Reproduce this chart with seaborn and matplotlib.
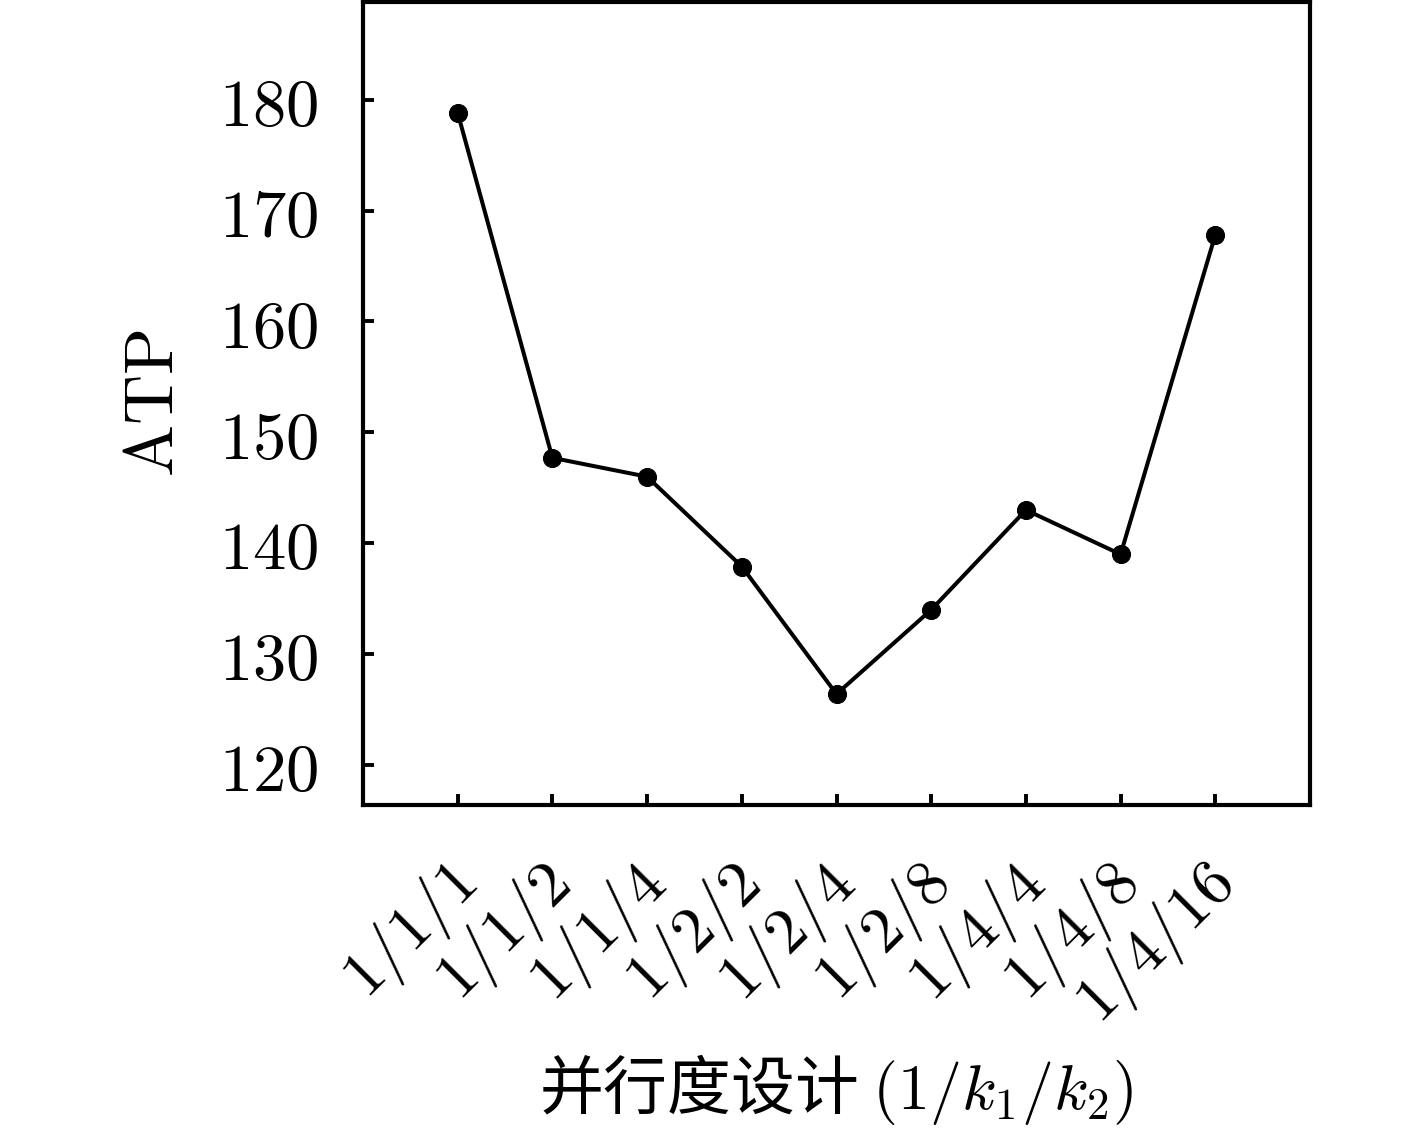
import matplotlib
matplotlib.use("Agg")
import matplotlib.pyplot as plt
import matplotlib.transforms as mtransforms
import seaborn as sns
import pandas as pd

categories = ["1/1/1", "1/1/2", "1/1/4", "1/2/2", "1/2/4", "1/2/8", "1/4/4", "1/4/8", "1/4/16"]
atp_values = [178.8, 147.7, 146.0, 137.9, 126.4, 134.0, 143.0, 139.0, 167.8]
y_ticks = [120, 130, 140, 150, 160, 170, 180]

sns.set_theme(style="ticks")
plt.rcParams['font.family'] = ['Noto Sans CJK SC', 'DejaVu Sans']
plt.rcParams['mathtext.fontset'] = 'cm'
plt.rcParams['text.color'] = 'black'
plt.rcParams['axes.labelcolor'] = 'black'
plt.rcParams['xtick.color'] = 'black'
plt.rcParams['ytick.color'] = 'black'

df = pd.DataFrame({"cfg": categories, "ATP": atp_values})

fig = plt.figure(figsize=(14.17, 11.39), dpi=100)
ax = fig.add_axes([363/1417, 1 - 805/1139, (1310 - 363)/1417, (805 - 2)/1139])

sns.lineplot(data=df, x="cfg", y="ATP", ax=ax, color="black", linewidth=2.9,
             marker="o", markersize=13, markeredgecolor="black", sort=False)

ax.set_xlim(-1, len(categories))
ax.set_ylim(116.4, 188.8)
ax.set_yticks(y_ticks)
ax.set_yticklabels([f"${v}$" for v in y_ticks], fontsize=48)
ax.set_xticks(range(len(categories)))
ax.set_xticklabels([f"${c}$" for c in categories], fontsize=47, rotation=45,
                   ha="right", rotation_mode="anchor")

ax.tick_params(axis="both", direction="in", length=8, width=2.8,
               colors="black", labelcolor="black")
ax.tick_params(axis="y", pad=32)
ax.tick_params(axis="x", pad=28)
offset = mtransforms.ScaledTranslation(-0.15, -0.07, fig.dpi_scale_trans)
for lab in ax.get_xticklabels():
    lab.set_transform(lab.get_transform() + offset)
for s in ax.spines.values():
    s.set_linewidth(3)
    s.set_color("black")

ax.set_ylabel(r"$\mathrm{ATP}$", fontsize=50, labelpad=22, color="black")
ax.set_xlabel(r"并行度设计 $(1/k_1/k_2)$", fontsize=46, labelpad=10, color="black")

fig.savefig("out.png", dpi=100, facecolor="white")
